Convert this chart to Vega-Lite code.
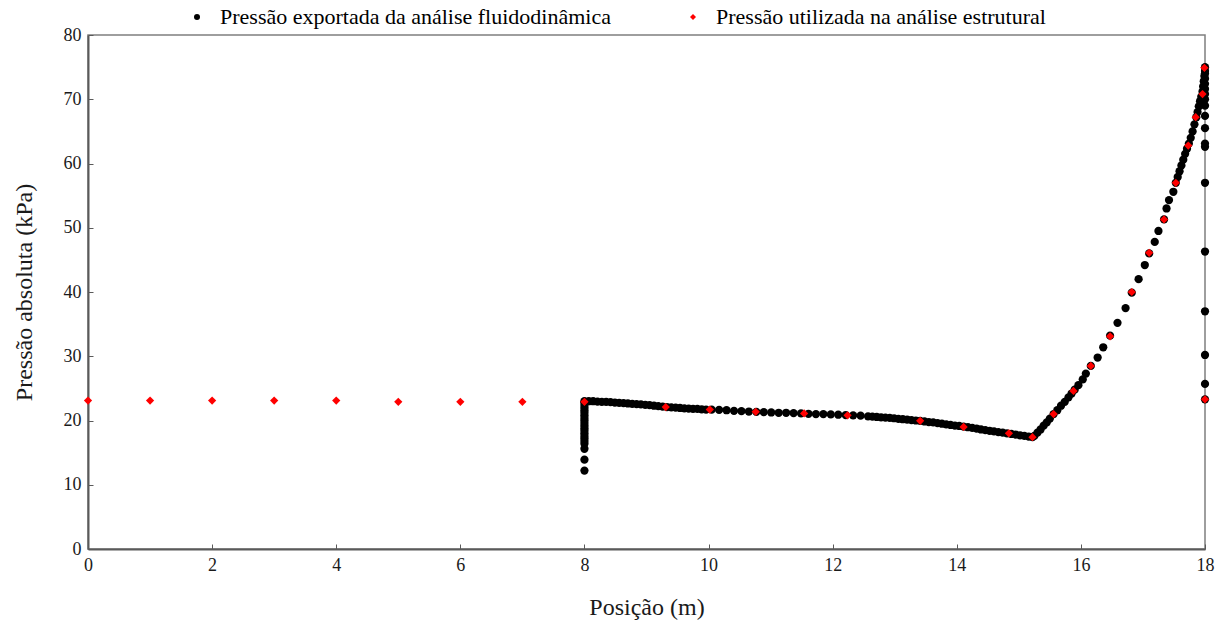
{
  "$schema": "https://vega.github.io/schema/vega-lite/v6.json",
  "autosize": "none",
  "width": 1117,
  "height": 514,
  "padding": {"left": 88, "top": 35, "right": 18, "bottom": 75},
  "background": "white",
  "config": {
    "font": "Liberation Serif",
    "view": {"stroke": "#7f7f7f", "strokeWidth": 1.5},
    "axis": {
      "domainColor": "#5a5a5a", "domainWidth": 2,
      "tickColor": "#5a5a5a", "tickSize": -5, "tickWidth": 1,
      "grid": false,
      "labelFont": "Liberation Serif", "labelFontSize": 18, "labelColor": "#1a1a1a",
      "titleFont": "Liberation Serif", "titleFontSize": 24, "titleFontWeight": "normal", "titleColor": "#1a1a1a"
    }
  },
  "data": {
    "values": [
      {"s": "Pressão exportada da análise fluidodinâmica", "x": 8, "y": 12.2},
      {"s": "Pressão exportada da análise fluidodinâmica", "x": 8, "y": 13.9},
      {"s": "Pressão exportada da análise fluidodinâmica", "x": 8, "y": 15.6},
      {"s": "Pressão exportada da análise fluidodinâmica", "x": 8, "y": 16.4},
      {"s": "Pressão exportada da análise fluidodinâmica", "x": 8, "y": 16.8},
      {"s": "Pressão exportada da análise fluidodinâmica", "x": 8, "y": 17.2},
      {"s": "Pressão exportada da análise fluidodinâmica", "x": 8, "y": 17.6},
      {"s": "Pressão exportada da análise fluidodinâmica", "x": 8, "y": 18.0},
      {"s": "Pressão exportada da análise fluidodinâmica", "x": 8, "y": 18.4},
      {"s": "Pressão exportada da análise fluidodinâmica", "x": 8, "y": 18.8},
      {"s": "Pressão exportada da análise fluidodinâmica", "x": 8, "y": 19.2},
      {"s": "Pressão exportada da análise fluidodinâmica", "x": 8, "y": 19.6},
      {"s": "Pressão exportada da análise fluidodinâmica", "x": 8, "y": 20.0},
      {"s": "Pressão exportada da análise fluidodinâmica", "x": 8, "y": 20.4},
      {"s": "Pressão exportada da análise fluidodinâmica", "x": 8, "y": 20.8},
      {"s": "Pressão exportada da análise fluidodinâmica", "x": 8, "y": 21.2},
      {"s": "Pressão exportada da análise fluidodinâmica", "x": 8, "y": 21.6},
      {"s": "Pressão exportada da análise fluidodinâmica", "x": 8, "y": 22.0},
      {"s": "Pressão exportada da análise fluidodinâmica", "x": 8, "y": 22.4},
      {"s": "Pressão exportada da análise fluidodinâmica", "x": 8, "y": 22.8},
      {"s": "Pressão exportada da análise fluidodinâmica", "x": 8.00, "y": 23.0},
      {"s": "Pressão exportada da análise fluidodinâmica", "x": 8.07, "y": 23.0},
      {"s": "Pressão exportada da análise fluidodinâmica", "x": 8.14, "y": 23.0},
      {"s": "Pressão exportada da análise fluidodinâmica", "x": 8.21, "y": 22.95},
      {"s": "Pressão exportada da análise fluidodinâmica", "x": 8.28, "y": 22.9},
      {"s": "Pressão exportada da análise fluidodinâmica", "x": 8.35, "y": 22.9},
      {"s": "Pressão exportada da análise fluidodinâmica", "x": 8.42, "y": 22.85},
      {"s": "Pressão exportada da análise fluidodinâmica", "x": 8.49, "y": 22.8},
      {"s": "Pressão exportada da análise fluidodinâmica", "x": 8.56, "y": 22.75},
      {"s": "Pressão exportada da análise fluidodinâmica", "x": 8.63, "y": 22.7},
      {"s": "Pressão exportada da análise fluidodinâmica", "x": 8.70, "y": 22.65},
      {"s": "Pressão exportada da análise fluidodinâmica", "x": 8.77, "y": 22.6},
      {"s": "Pressão exportada da análise fluidodinâmica", "x": 8.84, "y": 22.55},
      {"s": "Pressão exportada da análise fluidodinâmica", "x": 8.91, "y": 22.5},
      {"s": "Pressão exportada da análise fluidodinâmica", "x": 8.98, "y": 22.45},
      {"s": "Pressão exportada da análise fluidodinâmica", "x": 9.05, "y": 22.4},
      {"s": "Pressão exportada da análise fluidodinâmica", "x": 9.12, "y": 22.3},
      {"s": "Pressão exportada da análise fluidodinâmica", "x": 9.19, "y": 22.25},
      {"s": "Pressão exportada da análise fluidodinâmica", "x": 9.26, "y": 22.15},
      {"s": "Pressão exportada da análise fluidodinâmica", "x": 9.33, "y": 22.1},
      {"s": "Pressão exportada da análise fluidodinâmica", "x": 9.40, "y": 22.05},
      {"s": "Pressão exportada da análise fluidodinâmica", "x": 9.47, "y": 22.0},
      {"s": "Pressão exportada da análise fluidodinâmica", "x": 9.54, "y": 21.95},
      {"s": "Pressão exportada da análise fluidodinâmica", "x": 9.61, "y": 21.9},
      {"s": "Pressão exportada da análise fluidodinâmica", "x": 9.68, "y": 21.85},
      {"s": "Pressão exportada da análise fluidodinâmica", "x": 9.75, "y": 21.8},
      {"s": "Pressão exportada da análise fluidodinâmica", "x": 9.82, "y": 21.8},
      {"s": "Pressão exportada da análise fluidodinâmica", "x": 9.89, "y": 21.75},
      {"s": "Pressão exportada da análise fluidodinâmica", "x": 9.96, "y": 21.7},
      {"s": "Pressão exportada da análise fluidodinâmica", "x": 10.05, "y": 21.7},
      {"s": "Pressão exportada da análise fluidodinâmica", "x": 10.17, "y": 21.65},
      {"s": "Pressão exportada da análise fluidodinâmica", "x": 10.29, "y": 21.6},
      {"s": "Pressão exportada da análise fluidodinâmica", "x": 10.41, "y": 21.5},
      {"s": "Pressão exportada da análise fluidodinâmica", "x": 10.53, "y": 21.45},
      {"s": "Pressão exportada da análise fluidodinâmica", "x": 10.65, "y": 21.4},
      {"s": "Pressão exportada da análise fluidodinâmica", "x": 10.77, "y": 21.35},
      {"s": "Pressão exportada da análise fluidodinâmica", "x": 10.89, "y": 21.3},
      {"s": "Pressão exportada da análise fluidodinâmica", "x": 11.01, "y": 21.25},
      {"s": "Pressão exportada da análise fluidodinâmica", "x": 11.13, "y": 21.2},
      {"s": "Pressão exportada da análise fluidodinâmica", "x": 11.25, "y": 21.2},
      {"s": "Pressão exportada da análise fluidodinâmica", "x": 11.37, "y": 21.15},
      {"s": "Pressão exportada da análise fluidodinâmica", "x": 11.49, "y": 21.1},
      {"s": "Pressão exportada da análise fluidodinâmica", "x": 11.61, "y": 21.05},
      {"s": "Pressão exportada da análise fluidodinâmica", "x": 11.73, "y": 21.0},
      {"s": "Pressão exportada da análise fluidodinâmica", "x": 11.85, "y": 21.0},
      {"s": "Pressão exportada da análise fluidodinâmica", "x": 11.97, "y": 20.95},
      {"s": "Pressão exportada da análise fluidodinâmica", "x": 12.09, "y": 20.9},
      {"s": "Pressão exportada da análise fluidodinâmica", "x": 12.21, "y": 20.85},
      {"s": "Pressão exportada da análise fluidodinâmica", "x": 12.33, "y": 20.8},
      {"s": "Pressão exportada da análise fluidodinâmica", "x": 12.45, "y": 20.75},
      {"s": "Pressão exportada da análise fluidodinâmica", "x": 12.57, "y": 20.65},
      {"s": "Pressão exportada da análise fluidodinâmica", "x": 12.64, "y": 20.6},
      {"s": "Pressão exportada da análise fluidodinâmica", "x": 12.71, "y": 20.55},
      {"s": "Pressão exportada da análise fluidodinâmica", "x": 12.78, "y": 20.5},
      {"s": "Pressão exportada da análise fluidodinâmica", "x": 12.85, "y": 20.45},
      {"s": "Pressão exportada da análise fluidodinâmica", "x": 12.92, "y": 20.4},
      {"s": "Pressão exportada da análise fluidodinâmica", "x": 12.99, "y": 20.35},
      {"s": "Pressão exportada da análise fluidodinâmica", "x": 13.06, "y": 20.25},
      {"s": "Pressão exportada da análise fluidodinâmica", "x": 13.13, "y": 20.2},
      {"s": "Pressão exportada da análise fluidodinâmica", "x": 13.20, "y": 20.15},
      {"s": "Pressão exportada da análise fluidodinâmica", "x": 13.27, "y": 20.05},
      {"s": "Pressão exportada da análise fluidodinâmica", "x": 13.34, "y": 20.0},
      {"s": "Pressão exportada da análise fluidodinâmica", "x": 13.41, "y": 19.95},
      {"s": "Pressão exportada da análise fluidodinâmica", "x": 13.48, "y": 19.85},
      {"s": "Pressão exportada da análise fluidodinâmica", "x": 13.55, "y": 19.75},
      {"s": "Pressão exportada da análise fluidodinâmica", "x": 13.62, "y": 19.7},
      {"s": "Pressão exportada da análise fluidodinâmica", "x": 13.69, "y": 19.6},
      {"s": "Pressão exportada da análise fluidodinâmica", "x": 13.76, "y": 19.5},
      {"s": "Pressão exportada da análise fluidodinâmica", "x": 13.83, "y": 19.4},
      {"s": "Pressão exportada da análise fluidodinâmica", "x": 13.90, "y": 19.3},
      {"s": "Pressão exportada da análise fluidodinâmica", "x": 13.97, "y": 19.2},
      {"s": "Pressão exportada da análise fluidodinâmica", "x": 14.04, "y": 19.15},
      {"s": "Pressão exportada da análise fluidodinâmica", "x": 14.11, "y": 19.05},
      {"s": "Pressão exportada da análise fluidodinâmica", "x": 14.18, "y": 18.95},
      {"s": "Pressão exportada da análise fluidodinâmica", "x": 14.25, "y": 18.85},
      {"s": "Pressão exportada da análise fluidodinâmica", "x": 14.32, "y": 18.75},
      {"s": "Pressão exportada da análise fluidodinâmica", "x": 14.39, "y": 18.6},
      {"s": "Pressão exportada da análise fluidodinâmica", "x": 14.46, "y": 18.5},
      {"s": "Pressão exportada da análise fluidodinâmica", "x": 14.53, "y": 18.4},
      {"s": "Pressão exportada da análise fluidodinâmica", "x": 14.60, "y": 18.3},
      {"s": "Pressão exportada da análise fluidodinâmica", "x": 14.67, "y": 18.2},
      {"s": "Pressão exportada da análise fluidodinâmica", "x": 14.74, "y": 18.1},
      {"s": "Pressão exportada da análise fluidodinâmica", "x": 14.81, "y": 18.0},
      {"s": "Pressão exportada da análise fluidodinâmica", "x": 14.88, "y": 17.9},
      {"s": "Pressão exportada da análise fluidodinâmica", "x": 14.95, "y": 17.8},
      {"s": "Pressão exportada da análise fluidodinâmica", "x": 15.02, "y": 17.7},
      {"s": "Pressão exportada da análise fluidodinâmica", "x": 15.09, "y": 17.6},
      {"s": "Pressão exportada da análise fluidodinâmica", "x": 15.16, "y": 17.5},
      {"s": "Pressão exportada da análise fluidodinâmica", "x": 15.22, "y": 17.4},
      {"s": "Pressão exportada da análise fluidodinâmica", "x": 15.25, "y": 17.6},
      {"s": "Pressão exportada da análise fluidodinâmica", "x": 15.30, "y": 18.1},
      {"s": "Pressão exportada da análise fluidodinâmica", "x": 15.35, "y": 18.6},
      {"s": "Pressão exportada da análise fluidodinâmica", "x": 15.40, "y": 19.2},
      {"s": "Pressão exportada da análise fluidodinâmica", "x": 15.45, "y": 19.7},
      {"s": "Pressão exportada da análise fluidodinâmica", "x": 15.50, "y": 20.3},
      {"s": "Pressão exportada da análise fluidodinâmica", "x": 15.56, "y": 21.0},
      {"s": "Pressão exportada da análise fluidodinâmica", "x": 15.62, "y": 21.6},
      {"s": "Pressão exportada da análise fluidodinâmica", "x": 15.68, "y": 22.3},
      {"s": "Pressão exportada da análise fluidodinâmica", "x": 15.74, "y": 22.9},
      {"s": "Pressão exportada da análise fluidodinâmica", "x": 15.80, "y": 23.6},
      {"s": "Pressão exportada da análise fluidodinâmica", "x": 15.85, "y": 24.2},
      {"s": "Pressão exportada da análise fluidodinâmica", "x": 15.90, "y": 24.8},
      {"s": "Pressão exportada da análise fluidodinâmica", "x": 15.96, "y": 25.5},
      {"s": "Pressão exportada da análise fluidodinâmica", "x": 16.03, "y": 26.4},
      {"s": "Pressão exportada da análise fluidodinâmica", "x": 16.08, "y": 27.3},
      {"s": "Pressão exportada da análise fluidodinâmica", "x": 16.16, "y": 28.5},
      {"s": "Pressão exportada da análise fluidodinâmica", "x": 16.27, "y": 29.8},
      {"s": "Pressão exportada da análise fluidodinâmica", "x": 16.36, "y": 31.4},
      {"s": "Pressão exportada da análise fluidodinâmica", "x": 16.47, "y": 33.2},
      {"s": "Pressão exportada da análise fluidodinâmica", "x": 16.59, "y": 35.2},
      {"s": "Pressão exportada da análise fluidodinâmica", "x": 16.72, "y": 37.5},
      {"s": "Pressão exportada da análise fluidodinâmica", "x": 16.82, "y": 39.9},
      {"s": "Pressão exportada da análise fluidodinâmica", "x": 16.93, "y": 42.0},
      {"s": "Pressão exportada da análise fluidodinâmica", "x": 17.03, "y": 44.2},
      {"s": "Pressão exportada da análise fluidodinâmica", "x": 17.10, "y": 46.0},
      {"s": "Pressão exportada da análise fluidodinâmica", "x": 17.19, "y": 47.8},
      {"s": "Pressão exportada da análise fluidodinâmica", "x": 17.25, "y": 49.5},
      {"s": "Pressão exportada da análise fluidodinâmica", "x": 17.34, "y": 51.3},
      {"s": "Pressão exportada da análise fluidodinâmica", "x": 17.38, "y": 53.0},
      {"s": "Pressão exportada da análise fluidodinâmica", "x": 17.42, "y": 54.3},
      {"s": "Pressão exportada da análise fluidodinâmica", "x": 17.49, "y": 55.6},
      {"s": "Pressão exportada da análise fluidodinâmica", "x": 17.53, "y": 57.0},
      {"s": "Pressão exportada da análise fluidodinâmica", "x": 17.56, "y": 57.9},
      {"s": "Pressão exportada da análise fluidodinâmica", "x": 17.59, "y": 58.8},
      {"s": "Pressão exportada da análise fluidodinâmica", "x": 17.62, "y": 59.7},
      {"s": "Pressão exportada da análise fluidodinâmica", "x": 17.65, "y": 60.6},
      {"s": "Pressão exportada da análise fluidodinâmica", "x": 17.68, "y": 61.5},
      {"s": "Pressão exportada da análise fluidodinâmica", "x": 17.71, "y": 62.3},
      {"s": "Pressão exportada da análise fluidodinâmica", "x": 17.74, "y": 63.1},
      {"s": "Pressão exportada da análise fluidodinâmica", "x": 17.77, "y": 64.0},
      {"s": "Pressão exportada da análise fluidodinâmica", "x": 17.80, "y": 65.0},
      {"s": "Pressão exportada da análise fluidodinâmica", "x": 17.83, "y": 66.1},
      {"s": "Pressão exportada da análise fluidodinâmica", "x": 17.86, "y": 67.2},
      {"s": "Pressão exportada da análise fluidodinâmica", "x": 17.88, "y": 68.0},
      {"s": "Pressão exportada da análise fluidodinâmica", "x": 17.90, "y": 68.9},
      {"s": "Pressão exportada da análise fluidodinâmica", "x": 17.92, "y": 69.7},
      {"s": "Pressão exportada da análise fluidodinâmica", "x": 17.94, "y": 70.4},
      {"s": "Pressão exportada da análise fluidodinâmica", "x": 17.96, "y": 71.2},
      {"s": "Pressão exportada da análise fluidodinâmica", "x": 17.97, "y": 72.0},
      {"s": "Pressão exportada da análise fluidodinâmica", "x": 17.98, "y": 72.8},
      {"s": "Pressão exportada da análise fluidodinâmica", "x": 17.99, "y": 73.6},
      {"s": "Pressão exportada da análise fluidodinâmica", "x": 18, "y": 74.4},
      {"s": "Pressão exportada da análise fluidodinâmica", "x": 18, "y": 75.0},
      {"s": "Pressão exportada da análise fluidodinâmica", "x": 18, "y": 23.3},
      {"s": "Pressão exportada da análise fluidodinâmica", "x": 18, "y": 25.7},
      {"s": "Pressão exportada da análise fluidodinâmica", "x": 18, "y": 30.2},
      {"s": "Pressão exportada da análise fluidodinâmica", "x": 18, "y": 37.0},
      {"s": "Pressão exportada da análise fluidodinâmica", "x": 18, "y": 46.3},
      {"s": "Pressão exportada da análise fluidodinâmica", "x": 18, "y": 57.0},
      {"s": "Pressão exportada da análise fluidodinâmica", "x": 18, "y": 62.6},
      {"s": "Pressão exportada da análise fluidodinâmica", "x": 18, "y": 63.1},
      {"s": "Pressão exportada da análise fluidodinâmica", "x": 18, "y": 65.5},
      {"s": "Pressão exportada da análise fluidodinâmica", "x": 18, "y": 67.4},
      {"s": "Pressão exportada da análise fluidodinâmica", "x": 18, "y": 69.0},
      {"s": "Pressão exportada da análise fluidodinâmica", "x": 18, "y": 70.0},
      {"s": "Pressão exportada da análise fluidodinâmica", "x": 18, "y": 70.8},
      {"s": "Pressão exportada da análise fluidodinâmica", "x": 18, "y": 71.6},
      {"s": "Pressão exportada da análise fluidodinâmica", "x": 18, "y": 72.4},
      {"s": "Pressão exportada da análise fluidodinâmica", "x": 18, "y": 73.2},
      {"s": "Pressão exportada da análise fluidodinâmica", "x": 18, "y": 74.0},
      {"s": "Pressão utilizada na análise estrutural", "x": 0, "y": 23.1},
      {"s": "Pressão utilizada na análise estrutural", "x": 1, "y": 23.1},
      {"s": "Pressão utilizada na análise estrutural", "x": 2, "y": 23.1},
      {"s": "Pressão utilizada na análise estrutural", "x": 3, "y": 23.1},
      {"s": "Pressão utilizada na análise estrutural", "x": 4, "y": 23.1},
      {"s": "Pressão utilizada na análise estrutural", "x": 5, "y": 22.9},
      {"s": "Pressão utilizada na análise estrutural", "x": 6, "y": 22.9},
      {"s": "Pressão utilizada na análise estrutural", "x": 7, "y": 22.9},
      {"s": "Pressão utilizada na análise estrutural", "x": 8, "y": 22.9},
      {"s": "Pressão utilizada na análise estrutural", "x": 9.31, "y": 22.1},
      {"s": "Pressão utilizada na análise estrutural", "x": 10.02, "y": 21.7},
      {"s": "Pressão utilizada na análise estrutural", "x": 10.76, "y": 21.35},
      {"s": "Pressão utilizada na análise estrutural", "x": 11.54, "y": 21.1},
      {"s": "Pressão utilizada na análise estrutural", "x": 12.24, "y": 20.8},
      {"s": "Pressão utilizada na análise estrutural", "x": 13.41, "y": 19.95},
      {"s": "Pressão utilizada na análise estrutural", "x": 14.11, "y": 19.0},
      {"s": "Pressão utilizada na análise estrutural", "x": 14.84, "y": 18.0},
      {"s": "Pressão utilizada na análise estrutural", "x": 15.22, "y": 17.4},
      {"s": "Pressão utilizada na análise estrutural", "x": 15.56, "y": 21.0},
      {"s": "Pressão utilizada na análise estrutural", "x": 15.88, "y": 24.6},
      {"s": "Pressão utilizada na análise estrutural", "x": 16.16, "y": 28.5},
      {"s": "Pressão utilizada na análise estrutural", "x": 16.47, "y": 33.1},
      {"s": "Pressão utilizada na análise estrutural", "x": 16.82, "y": 40.0},
      {"s": "Pressão utilizada na análise estrutural", "x": 17.10, "y": 46.1},
      {"s": "Pressão utilizada na análise estrutural", "x": 17.34, "y": 51.3},
      {"s": "Pressão utilizada na análise estrutural", "x": 17.53, "y": 57.0},
      {"s": "Pressão utilizada na análise estrutural", "x": 17.73, "y": 62.8},
      {"s": "Pressão utilizada na análise estrutural", "x": 17.85, "y": 67.2},
      {"s": "Pressão utilizada na análise estrutural", "x": 17.96, "y": 70.8},
      {"s": "Pressão utilizada na análise estrutural", "x": 17.99, "y": 74.9},
      {"s": "Pressão utilizada na análise estrutural", "x": 18, "y": 23.3}
    ]
  },
  "mark": {"type": "point", "filled": true, "opacity": 1, "size": 68},
  "encoding": {
    "x": {
      "field": "x", "type": "quantitative",
      "scale": {"domain": [0, 18], "nice": false, "zero": false},
      "axis": {"values": [0, 2, 4, 6, 8, 10, 12, 14, 16, 18], "title": "Posição (m)", "labelPadding": 12, "titlePadding": 21, "labelFlush": false}
    },
    "y": {
      "field": "y", "type": "quantitative",
      "scale": {"domain": [0, 80], "nice": false},
      "axis": {"values": [0, 10, 20, 30, 40, 50, 60, 70, 80], "title": "Pressão absoluta (kPa)", "labelPadding": 12, "titlePadding": 27}
    },
    "color": {
      "field": "s", "type": "nominal",
      "scale": {"domain": ["Pressão exportada da análise fluidodinâmica", "Pressão utilizada na análise estrutural"], "range": ["#000000", "#ff0000"]},
      "legend": {
        "title": null, "orient": "none", "direction": "horizontal",
        "legendX": 98, "legendY": -29, "padding": 0,
        "symbolSize": 36, "labelFont": "Liberation Serif", "labelFontSize": 22, "labelColor": "#000000",
        "labelOffset": 12, "columnPadding": 71, "symbolStrokeWidth": 0, "labelLimit": 600
      }
    },
    "shape": {
      "field": "s", "type": "nominal",
      "scale": {"domain": ["Pressão exportada da análise fluidodinâmica", "Pressão utilizada na análise estrutural"], "range": ["circle", "diamond"]},
      "legend": null
    }
  }
}
